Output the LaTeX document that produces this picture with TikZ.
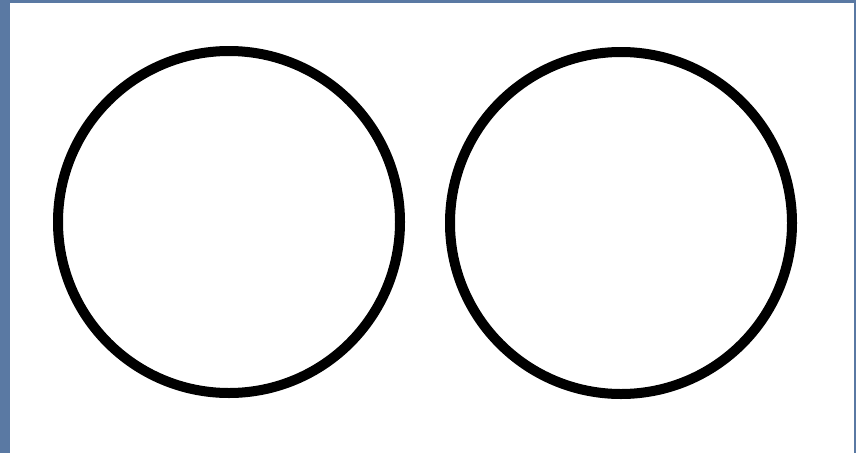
\documentclass[tikz,border=0pt]{standalone}
\definecolor{frameblue}{RGB}{90,121,163}
\tikzset{ring/.style={circle,draw=black,line width=10pt,minimum size=342pt,inner sep=0pt}}
\begin{document}
\begin{tikzpicture}[x=1pt,y=-1pt]
\useasboundingbox (0,0) rectangle (856,453);
\fill[frameblue] (0,0) rectangle (856,453);
\fill[white] (10,3) rectangle (854,453);
\node[ring] (leftring) at (229,222) {};
\node[ring] (rightring) at (621,223) {};
\end{tikzpicture}
\end{document}
